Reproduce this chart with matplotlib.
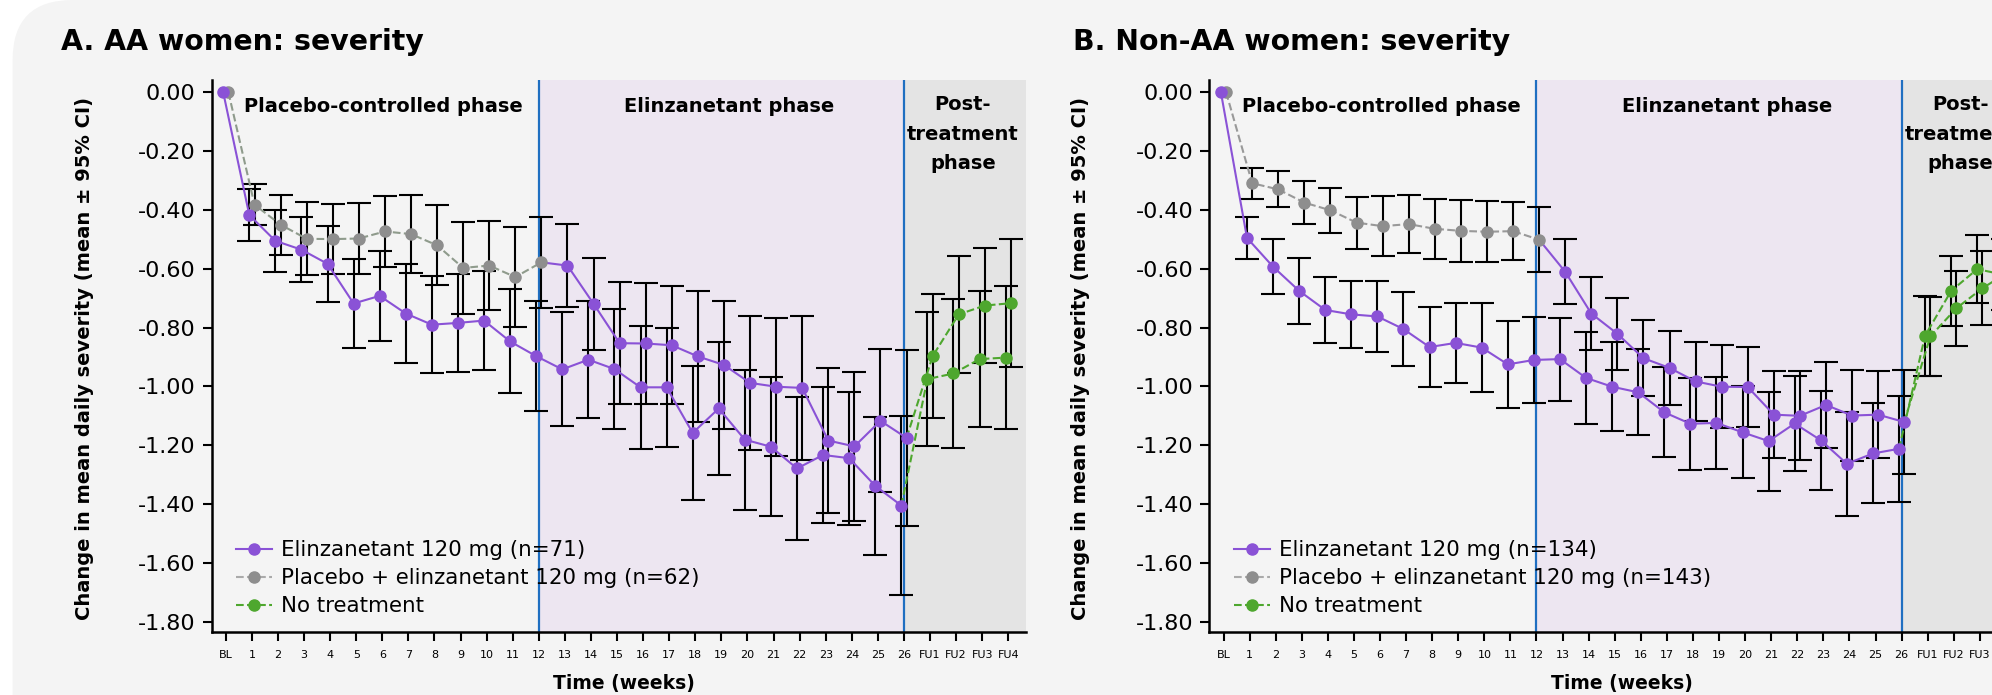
import numpy as np
import matplotlib.pyplot as plt
from matplotlib.lines import Line2D
from matplotlib.patches import FancyBboxPatch
from matplotlib.transforms import IdentityTransform

plt.rcParams['font.family'] = ['DejaVu Sans']

W, H = 1992, 695

weeks = ['BL'] + [str(i) for i in range(1, 27)] + ['FU1', 'FU2', 'FU3', 'FU4']
y_ticks = [0.0, -0.2, -0.4, -0.6, -0.8, -1.0, -1.2, -1.4, -1.6, -1.8]

# Panel A: AA women (BL..week 26)
aa_elz = [0, -0.417, -0.505, -0.535, -0.583, -0.718, -0.692, -0.752, -0.790, -0.784,
          -0.776, -0.847, -0.897, -0.942, -0.909, -0.941, -1.003, -1.003, -1.158,
          -1.075, -1.181, -1.205, -1.279, -1.233, -1.244, -1.338, -1.405]
aa_elz_ci = [0, 0.087, 0.105, 0.11, 0.13, 0.151, 0.152, 0.17, 0.166, 0.166, 0.167,
             0.177, 0.188, 0.194, 0.2, 0.203, 0.21, 0.203, 0.227, 0.226, 0.238,
             0.237, 0.244, 0.232, 0.226, 0.234, 0.305]
aa_pbo = [0, -0.382, -0.450, -0.498, -0.499, -0.497, -0.473, -0.482, -0.520, -0.597,
          -0.589, -0.628, -0.578, -0.589, -0.719, -0.853, -0.854, -0.860, -0.898,
          -0.927, -0.988, -1.001, -1.005, -1.184, -1.204, -1.117, -1.175]
aa_pbo_ci = [0, 0.07, 0.102, 0.124, 0.12, 0.122, 0.12, 0.133, 0.136, 0.155, 0.152,
             0.169, 0.155, 0.141, 0.157, 0.208, 0.207, 0.2, 0.223, 0.218, 0.228,
             0.234, 0.246, 0.245, 0.254, 0.243, 0.30]
# follow-up FU1..FU4 (no treatment)
aa_fu_elz = [-0.975, -0.956, -0.907, -0.902]
aa_fu_elz_ci = [0.228, 0.252, 0.23, 0.243]
aa_fu_pbo = [-0.897, -0.755, -0.725, -0.717]
aa_fu_pbo_ci = [0.21, 0.2, 0.195, 0.217]
aa_labels = ['Elinzanetant 120 mg (n=71)', 'Placebo + elinzanetant 120 mg (n=62)', 'No treatment']

# Panel B: non-AA women
nonaa_elz = [0, -0.495, -0.593, -0.675, -0.740, -0.755, -0.762, -0.805, -0.866, -0.852,
             -0.868, -0.925, -0.910, -0.907, -0.971, -1.001, -1.020, -1.088, -1.127,
             -1.124, -1.156, -1.186, -1.126, -1.183, -1.263, -1.228, -1.212]
nonaa_elz_ci = [0, 0.072, 0.093, 0.111, 0.112, 0.115, 0.12, 0.125, 0.135, 0.137, 0.151,
                0.149, 0.147, 0.141, 0.156, 0.152, 0.146, 0.153, 0.157, 0.157, 0.157,
                0.168, 0.16, 0.168, 0.177, 0.17, 0.181]
nonaa_pbo = [0, -0.309, -0.330, -0.375, -0.401, -0.443, -0.455, -0.448, -0.464, -0.471,
             -0.474, -0.472, -0.501, -0.610, -0.752, -0.821, -0.904, -0.937, -0.983,
             -1.001, -1.002, -1.096, -1.100, -1.063, -1.099, -1.096, -1.121]
nonaa_pbo_ci = [0, 0.052, 0.061, 0.074, 0.077, 0.088, 0.102, 0.099, 0.101, 0.105, 0.104,
                0.099, 0.111, 0.111, 0.124, 0.123, 0.13, 0.127, 0.133, 0.141, 0.136,
                0.147, 0.151, 0.145, 0.156, 0.149, 0.176]
nonaa_fu_elz = [-0.827, -0.675, -0.601, -0.62]
nonaa_fu_elz_ci = [0.136, 0.12, 0.115, 0.12]
nonaa_fu_pbo = [-0.83, -0.734, -0.666, -0.61]
nonaa_fu_pbo_ci = [0.133, 0.127, 0.125, 0.13]
nonaa_labels = ['Elinzanetant 120 mg (n=134)', 'Placebo + elinzanetant 120 mg (n=143)', 'No treatment']

PURPLE = '#8a52d6'
GREY = '#8e8e8e'
GREEN = '#4ea72e'
BLUE = '#1f6fc1'
BG = '#f4f4f4'


def draw_panel(ax, elz, elz_ci, pbo, pbo_ci, fu_elz, fu_elz_ci, fu_pbo, fu_pbo_ci, labels, dash_col):
    x = np.arange(len(weeks))
    d = 0.1
    ax.set_facecolor('none')
    ax.axvspan(12, 26, color='#ede6f1', zorder=0, lw=0)
    ax.axvspan(26, 40, color='#e4e4e4', zorder=0, lw=0)
    ax.axvline(12, color=BLUE, lw=1.6, zorder=1)
    ax.axvline(26, color=BLUE, lw=1.6, zorder=1)

    eb = dict(fmt='none', ecolor='black', elinewidth=1.5, capsize=8.5, capthick=1.5, zorder=2)
    xa = x[:27] - d
    xb = x[:27] + d
    ax.errorbar(xa[1:], elz[1:], yerr=elz_ci[1:], **eb)
    ax.errorbar(xb[1:], pbo[1:], yerr=pbo_ci[1:], **eb)
    ax.errorbar(x[27:] - d, fu_elz, yerr=fu_elz_ci, **eb)
    ax.errorbar(x[27:] + d, fu_pbo, yerr=fu_pbo_ci, **eb)

    # no-treatment follow-up
    ax.plot(x[26:] - d, [elz[26]] + fu_elz, '--', color=GREEN, lw=1.5, zorder=3)
    ax.plot(x[26:] + d, [pbo[26]] + fu_pbo, '--', color=GREEN, lw=1.5, zorder=3)
    ax.plot(x[27:] - d, fu_elz, 'o', color=GREEN, ms=8, zorder=4)
    ax.plot(x[27:] + d, fu_pbo, 'o', color=GREEN, ms=8, zorder=4)

    # placebo then elinzanetant
    ax.plot(xb[:13], pbo[:13], '--', color=dash_col, lw=1.5, zorder=3)
    ax.plot(xb[12:], pbo[12:], '-', color=PURPLE, lw=1.5, zorder=3)
    ax.plot(xb[:13], pbo[:13], 'o', color=GREY, ms=8, zorder=4)
    ax.plot(xb[13:], pbo[13:], 'o', color=PURPLE, ms=8, zorder=4)

    # elinzanetant throughout
    ax.plot(xa, elz, '-o', color=PURPLE, lw=1.5, ms=8, zorder=5)

    ax.set_xlim(-0.545, 30.68)
    ax.set_ylim(-1.834, 0.042)
    ax.set_xticks(x)
    ax.set_xticklabels(weeks, fontsize=8)
    ax.set_yticks(y_ticks)
    ax.set_yticklabels([f'{v:.2f}' for v in y_ticks], fontsize=16)
    ax.tick_params(axis='both', width=1.5, length=6.5, color='black')
    ax.tick_params(axis='x', pad=7)
    ax.tick_params(axis='y', pad=5)
    for s in ['top', 'right']:
        ax.spines[s].set_visible(False)
    for s in ['left', 'bottom']:
        ax.spines[s].set_linewidth(1.8)
        ax.spines[s].set_zorder(6)

    ax.text(0.7, -0.048, 'Placebo-controlled phase', ha='left', va='center',
            fontsize=14, weight='bold')
    ax.text(19.3, -0.048, 'Elinzanetant phase', ha='center', va='center',
            fontsize=14, weight='bold')
    ax.text(28.26, -0.008, 'Post-\ntreatment\nphase', ha='center', va='top',
            fontsize=14, weight='bold', linespacing=1.72)

    handles = [
        Line2D([], [], color=PURPLE, ls='-', lw=1.5, marker='o', ms=8),
        Line2D([], [], color='#aaaaaa', ls='--', lw=1.5, marker='o', ms=8, mfc=GREY, mec=GREY),
        Line2D([], [], color=GREEN, ls='--', lw=1.5, marker='o', ms=8),
    ]
    ax.legend(handles, labels, loc='upper left', bbox_to_anchor=(0.03, 0.166),
              frameon=False, fontsize=15.4, handlelength=1.7, handletextpad=0.4,
              labelspacing=0.38, borderpad=0, borderaxespad=0, numpoints=1)


fig = plt.figure(figsize=(W / 100, H / 100), dpi=100, facecolor='white')
card = FancyBboxPatch((12.6, -200), 4000, H + 200, boxstyle='round,pad=0,rounding_size=60',
                      transform=IdentityTransform(), facecolor=BG, edgecolor='none', zorder=-5)
fig.patches.append(card)

ax_w, ax_h = 814.4 / W, 551.7 / H
ax_y = 1 - 631.7 / H
ax1 = fig.add_axes([211.6 / W, ax_y, ax_w, ax_h])
ax2 = fig.add_axes([1209.3 / W, ax_y, ax_w, ax_h])

draw_panel(ax1, aa_elz, aa_elz_ci, aa_pbo, aa_pbo_ci, aa_fu_elz, aa_fu_elz_ci,
           aa_fu_pbo, aa_fu_pbo_ci, aa_labels, '#8f9b8c')
draw_panel(ax2, nonaa_elz, nonaa_elz_ci, nonaa_pbo, nonaa_pbo_ci, nonaa_fu_elz,
           nonaa_fu_elz_ci, nonaa_fu_pbo, nonaa_fu_pbo_ci, nonaa_labels, '#999999')

ylab = 'Change in mean daily severity (mean \u00b1 95% CI)'
for x0, ttl in [(0, 'A. AA women: severity'), (1011.7, 'B. Non-AA women: severity')]:
    fig.text((61 + x0) / W, 1 - 42 / H, ttl, fontsize=20.4, weight='bold', va='center', ha='left')
for x0 in [85, 1080]:
    fig.text(x0 / W, 1 - 358 / H, ylab, rotation=90, fontsize=14, weight='bold',
             ha='center', va='center')
for x0 in [624, 1621.7]:
    fig.text(x0 / W, 1 - 683 / H, 'Time (weeks)', fontsize=13.5, weight='bold',
             ha='center', va='center')

fig.savefig('out.png', dpi=100, facecolor=fig.get_facecolor())
